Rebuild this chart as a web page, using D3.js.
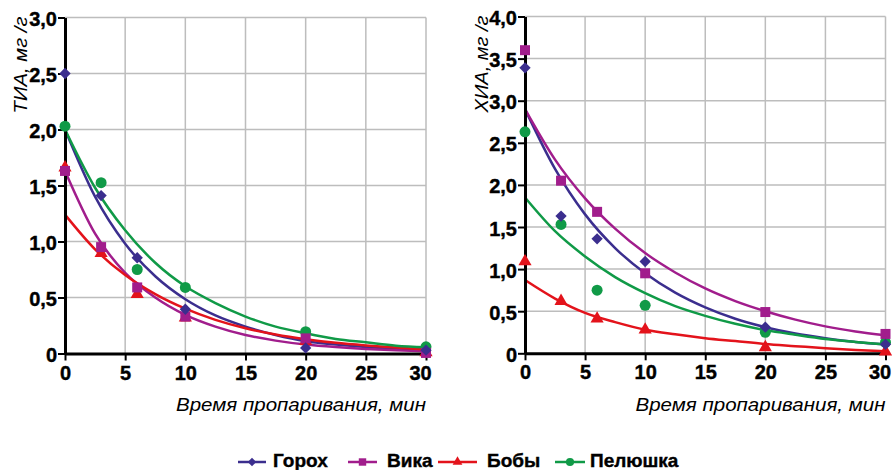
<!DOCTYPE html>
<html>
<head>
<meta charset="utf-8">
<script src="https://cdn.jsdelivr.net/npm/d3@7"></script>
<style>
  body { margin: 0; background: #fff; }
  svg { display: block; }
  .tick text { font-family: "Liberation Sans", Arial, sans-serif; font-weight: bold; font-size: 20px; fill: #000; stroke: #000; stroke-width: 0.4px; }
  .title { font-family: "Liberation Sans", Arial, sans-serif; font-style: italic; font-size: 19px; fill: #000; }
  .legend text { font-family: "Liberation Sans", Arial, sans-serif; font-weight: bold; font-size: 19px; fill: #000; stroke: #000; stroke-width: 0.4px; }
</style>
</head>
<body>
<svg id="chart" width="892" height="470"></svg>
<script>
// time points of measurements, min
const times = [0, 3, 6, 10, 20, 30];
const xTicks = [0, 5, 10, 15, 20, 25, 30];

const seriesNames = ["Горох", "Вика", "Бобы", "Пелюшка"];
const seriesColors = ["#3b2e8e", "#a11d8c", "#e3131b", "#109a47"];

// ТИА, мг/г (left)
const tiaGoroh = [2.50, 1.41, 0.855, 0.395, 0.05, 0.03];
const tiaVika = [1.63, 0.95, 0.59, 0.33, 0.135, 0.005];
const tiaBoby = [1.66, 0.895, 0.53, 0.32, 0.11, 0.01];
const tiaPelushka = [2.03, 1.525, 0.75, 0.59, 0.195, 0.06];

// ХИА, мг/г (right)
const hiaGoroh = [3.39, 1.63, 1.36, 1.09, 0.31, 0.107];
const hiaVika = [3.60, 2.05, 1.68, 0.95, 0.49, 0.23];
const hiaBoby = [1.09, 0.62, 0.41, 0.28, 0.07, 0.02];
const hiaPelushka = [2.63, 1.53, 0.75, 0.57, 0.25, 0.13];

// trend lines at these times
const trendTimes = [0, 2.5, 5, 7.5, 10, 12.5, 15, 17.5, 20, 22.5, 25, 27.5, 30];
const tiaTrendGoroh = [2.0, 1.40, 0.98, 0.69, 0.485, 0.34, 0.24, 0.165, 0.11, 0.08, 0.057, 0.04, 0.03];
const tiaTrendVika = [1.63, 1.07, 0.72, 0.50, 0.345, 0.24, 0.165, 0.115, 0.08, 0.057, 0.04, 0.028, 0.02];
const tiaTrendBoby = [1.24, 0.93, 0.70, 0.53, 0.40, 0.30, 0.225, 0.17, 0.128, 0.095, 0.072, 0.054, 0.035];
const tiaTrendPelushka = [2.0, 1.48, 1.10, 0.81, 0.60, 0.45, 0.33, 0.24, 0.18, 0.13, 0.10, 0.07, 0.055];

const hiaTrendGoroh = [2.90, 2.19, 1.65, 1.25, 0.95, 0.72, 0.545, 0.41, 0.31, 0.235, 0.18, 0.135, 0.105];
const hiaTrendVika = [2.90, 2.30, 1.84, 1.48, 1.19, 0.96, 0.77, 0.62, 0.50, 0.40, 0.32, 0.26, 0.215];
const hiaTrendBoby = [0.87, 0.65, 0.48, 0.37, 0.28, 0.225, 0.18, 0.145, 0.11, 0.085, 0.06, 0.04, 0.025];
const hiaTrendPelushka = [1.85, 1.45, 1.15, 0.905, 0.715, 0.56, 0.445, 0.35, 0.275, 0.22, 0.17, 0.135, 0.107];

const tiaYTicks = [0, 0.5, 1, 1.5, 2, 2.5, 3];
const hiaYTicks = [0, 0.5, 1, 1.5, 2, 2.5, 3, 3.5, 4];

const svg = d3.select("#chart");

const symbolFor = [
  { type: d3.symbolSquare, rotate: 45, size: 64 },
  { type: d3.symbolSquare, rotate: 0, size: 100 },
  { type: d3.symbolTriangle, rotate: 0, size: 75 },
  { type: d3.symbolCircle, rotate: 0, size: 95 }
];

const fmt = d => d === 0 ? "0" : d3.format(".1f")(d).replace(".", ",");

function panel(opt) {
  const x = d3.scaleLinear().domain([0, 30]).range(opt.xRange);
  const y = d3.scaleLinear().domain([0, opt.yMax]).range(opt.yRange);
  const g = svg.append("g");

  // grid
  g.append("g").selectAll("line").data(xTicks.slice(1)).join("line")
    .attr("x1", d => x(d)).attr("x2", d => x(d))
    .attr("y1", y(opt.yMax)).attr("y2", y(0))
    .attr("stroke", "#bdbdbd").attr("stroke-width", 1.5);
  g.append("g").selectAll("line").data(opt.yTicks.slice(1)).join("line")
    .attr("x1", x(0)).attr("x2", x(30))
    .attr("y1", d => y(d)).attr("y2", d => y(d))
    .attr("stroke", "#bdbdbd").attr("stroke-width", 1.5);

  // trend lines
  const line = d3.line().x((d, i) => x(trendTimes[i])).y(d => y(d)).curve(d3.curveMonotoneX);
  g.append("g").selectAll("path").data(opt.trends).join("path")
    .attr("d", line)
    .attr("fill", "none")
    .attr("stroke", (d, i) => seriesColors[i])
    .attr("stroke-width", 2.5);

  // axes
  const ya = g.append("g").attr("transform", `translate(${x(0)},0)`)
    .call(d3.axisLeft(y).tickValues(opt.yTicks).tickFormat(fmt).tickSize(7).tickSizeOuter(0).tickPadding(1));
  const xa = g.append("g").attr("transform", `translate(0,${y(0)})`)
    .call(d3.axisBottom(x).tickValues(xTicks).tickFormat(d3.format("d")).tickSize(7).tickSizeOuter(0).tickPadding(5));
  [ya, xa].forEach(a => {
    a.select(".domain").attr("stroke", "#000").attr("stroke-width", 3);
    a.selectAll(".tick line").attr("stroke", "#000").attr("stroke-width", 2);
  });
  ya.selectAll(".tick text").attr("dy", "0.4em");
  xa.selectAll(".tick text").filter(d => d === 30).attr("dx", -6);

  // markers, drawn red, green, purple, blue (blue on top)
  [2, 3, 1, 0].forEach(si => {
    const s = symbolFor[si];
    g.append("g").selectAll("path").data(opt.points[si]).join("path")
      .attr("d", d3.symbol().type(s.type).size(s.size))
      .attr("transform", (d, i) => `translate(${x(times[i])},${y(d)}) rotate(${s.rotate})`)
      .attr("fill", seriesColors[si]);
  });

  // titles
  svg.append("text").attr("class", "title")
    .attr("x", x(30)).attr("y", 411).attr("text-anchor", "end")
    .attr("textLength", 250).attr("lengthAdjust", "spacingAndGlyphs")
    .text("Время пропаривания, мин");
  svg.append("text").attr("class", "title")
    .attr("transform", `translate(${opt.yTitleX},${y(opt.yMax) - 1}) rotate(-90)`)
    .attr("text-anchor", "end")
    .attr("textLength", 97).attr("lengthAdjust", "spacingAndGlyphs")
    .text(opt.yTitle);
}

panel({
  xRange: [65, 426], yRange: [353.5, 17.5], yMax: 3, yTicks: tiaYTicks,
  yTitle: "ТИА, мг /г", yTitleX: 27,
  points: [tiaGoroh, tiaVika, tiaBoby, tiaPelushka],
  trends: [tiaTrendGoroh, tiaTrendVika, tiaTrendBoby, tiaTrendPelushka]
});
panel({
  xRange: [525, 885.5], yRange: [353.3, 16.5], yMax: 4, yTicks: hiaYTicks,
  yTitle: "ХИА, мг /г", yTitleX: 488,
  points: [hiaGoroh, hiaVika, hiaBoby, hiaPelushka],
  trends: [hiaTrendGoroh, hiaTrendVika, hiaTrendBoby, hiaTrendPelushka]
});

// legend
const legendLayout = [
  { x0: 238, x1: 266, tx: 273 },
  { x0: 348, x1: 377, tx: 387 },
  { x0: 438, x1: 477, tx: 487 },
  { x0: 555, x1: 585, tx: 590 }
];
const legendY = 462;
const lg = svg.append("g").attr("class", "legend");
seriesNames.forEach((name, i) => {
  const L = legendLayout[i], s = symbolFor[i];
  lg.append("line").attr("x1", L.x0).attr("x2", L.x1).attr("y1", legendY).attr("y2", legendY)
    .attr("stroke", seriesColors[i]).attr("stroke-width", 2.5);
  lg.append("path")
    .attr("d", d3.symbol().type(s.type).size(s.size * 0.55))
    .attr("transform", `translate(${(L.x0 + L.x1) / 2},${legendY}) rotate(${s.rotate})`)
    .attr("fill", seriesColors[i]);
  lg.append("text").attr("x", L.tx).attr("y", legendY + 5).text(name);
});
</script>
</body>
</html>
